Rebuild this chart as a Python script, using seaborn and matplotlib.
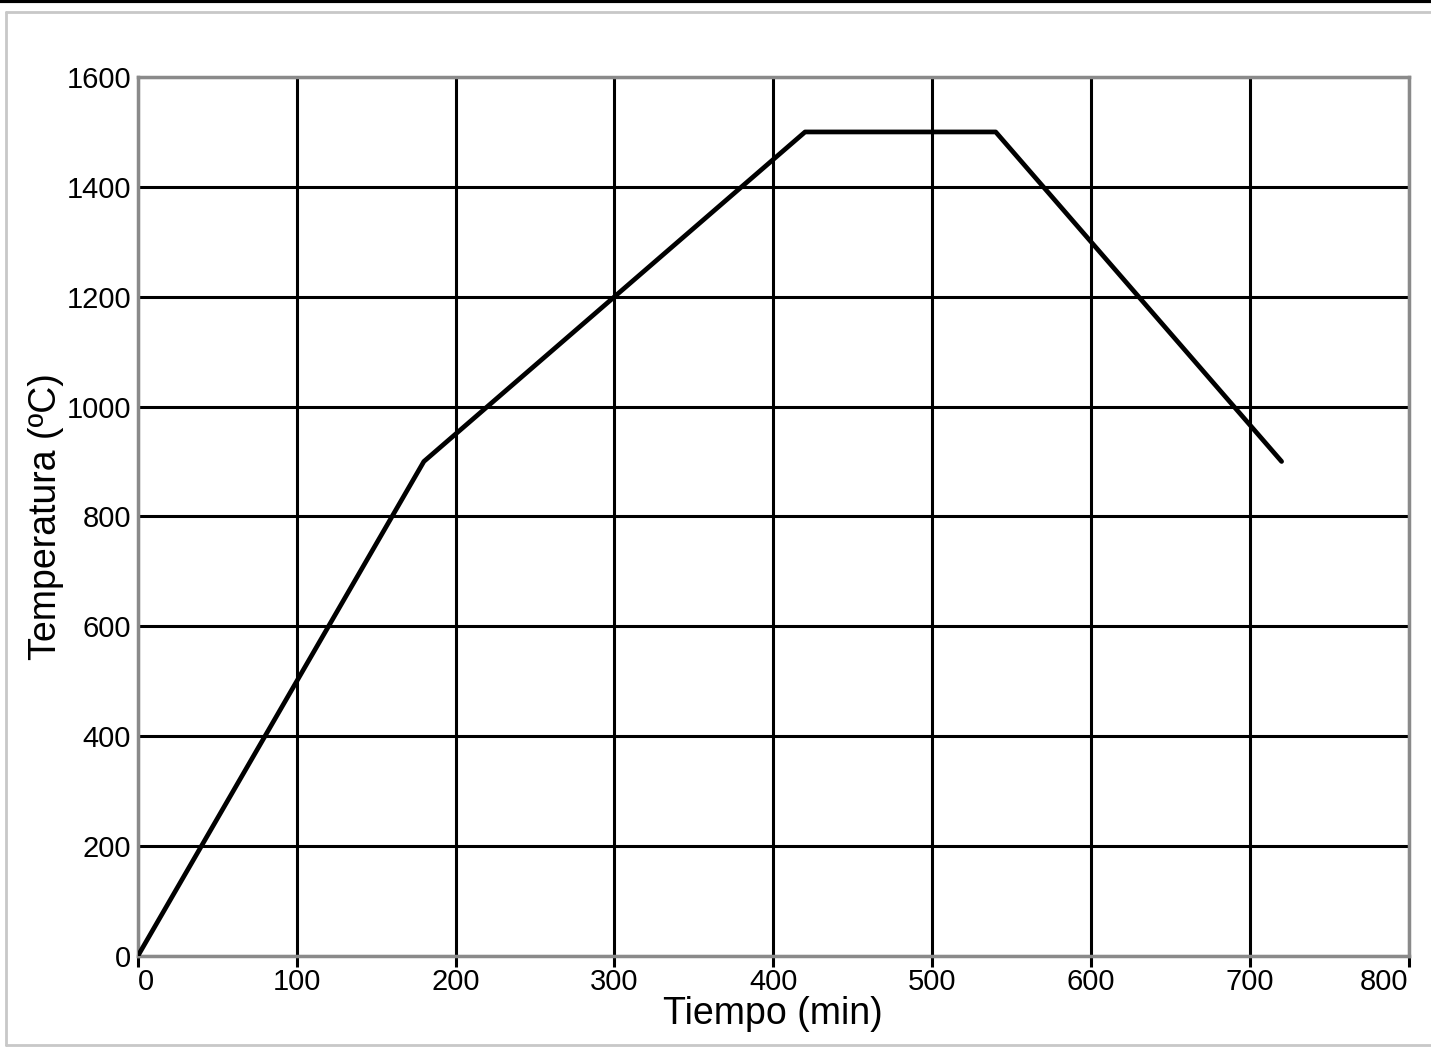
import matplotlib
matplotlib.use("Agg")
import matplotlib.pyplot as plt
import matplotlib.lines as mlines
import pandas as pd
import seaborn as sns

# firing curve
tiempo = [0, 180, 420, 540, 720]
temperatura = [0, 900, 1500, 1500, 900]
x_ticks = [0, 100, 200, 300, 400, 500, 600, 700, 800]
y_ticks = [0, 200, 400, 600, 800, 1000, 1200, 1400, 1600]

df = pd.DataFrame({"Tiempo (min)": tiempo, "Temperatura (ºC)": temperatura})

sns.set_style("white")
plt.rcParams['font.family'] = ['Liberation Sans', 'DejaVu Sans']
plt.rcParams['text.color'] = 'black'
plt.rcParams['axes.labelcolor'] = 'black'
plt.rcParams['xtick.color'] = 'black'
plt.rcParams['ytick.color'] = 'black'

fig = plt.figure(figsize=(14.31, 10.48), dpi=100)
ax = fig.add_axes([0.0964, 0.0880, 0.888, 0.8385])

sns.lineplot(data=df, x="Tiempo (min)", y="Temperatura (ºC)", ax=ax,
             color="black", linewidth=3.4, zorder=5)

ax.set_xlim(0, 800)
ax.set_ylim(0, 1600)
ax.set_xticks(x_ticks)
ax.set_yticks(y_ticks)
ax.grid(True, color="black", linewidth=2.2)
ax.set_axisbelow(True)
ax.tick_params(axis="x", bottom=True, direction="out", length=8, width=2.2,
               color="black", labelsize=21, pad=1)
ax.tick_params(axis="y", left=False, length=0, labelsize=21, pad=5)
for s in ax.spines.values():
    s.set_color("#8a8a8a")
    s.set_linewidth(2.5)
    s.set_visible(True)
ax.set_xlabel("Tiempo (min)", fontsize=27, labelpad=0)
ax.set_ylabel("Temperatura (ºC)", fontsize=27, labelpad=2)

# first and last x labels sit inside the plot edges, as in the original
xlabels = ax.get_xticklabels()
xlabels[0].set_horizontalalignment("left")
xlabels[-1].set_horizontalalignment("right")

# window frame around the picture
fig.add_artist(mlines.Line2D([0, 1], [0.999, 0.999], color="black", linewidth=3,
                             transform=fig.transFigure))
fig.add_artist(mlines.Line2D([0.004, 1], [0.9885, 0.9885], color="#c8c8c8", linewidth=2,
                             transform=fig.transFigure))
fig.add_artist(mlines.Line2D([0.004, 0.004], [0.003, 0.9885], color="#c8c8c8", linewidth=2,
                             transform=fig.transFigure))
fig.add_artist(mlines.Line2D([0.004, 1], [0.003, 0.003], color="#c8c8c8", linewidth=2,
                             transform=fig.transFigure))

fig.savefig("out.png", dpi=100)
